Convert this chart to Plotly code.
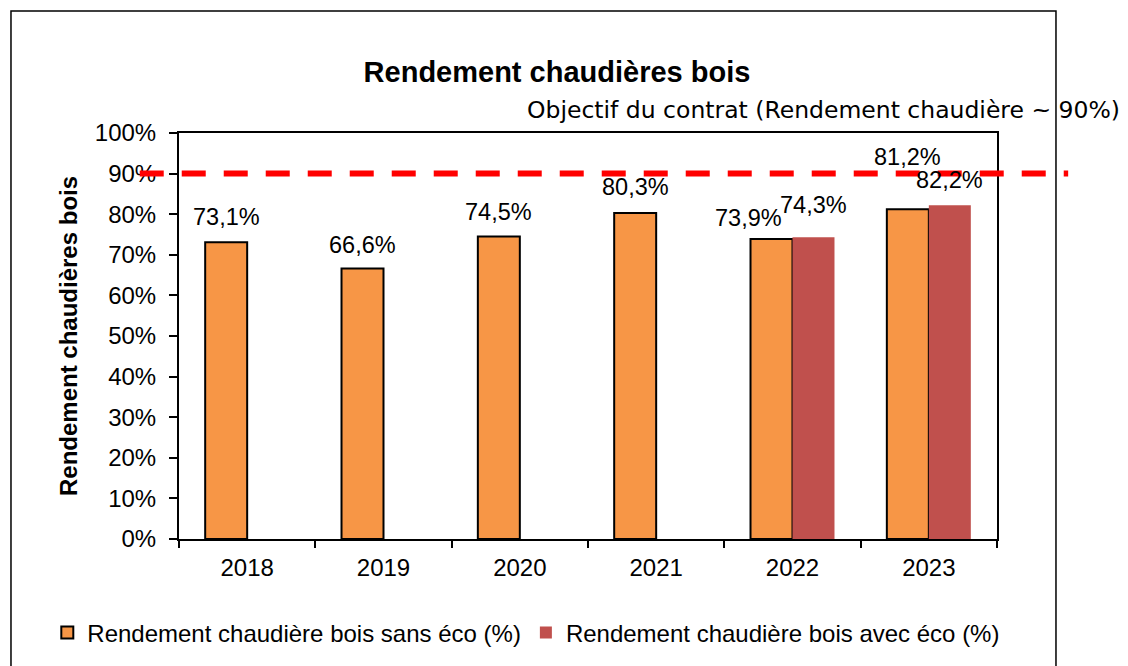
import plotly.graph_objects as go

years = ["2018", "2019", "2020", "2021", "2022", "2023"]
sans_eco = [73.1, 66.6, 74.5, 80.3, 73.9, 81.2]
avec_eco = [None, None, None, None, 74.3, 82.2]
objectif = 90
name_sans = "Rendement chaudière bois sans éco (%)"
name_avec = "Rendement chaudière bois avec éco (%)"
title_text = "Rendement chaudières bois"
yaxis_title = "Rendement chaudières bois"
objectif_text = "Objectif du contrat (Rendement chaudière ~ 90%)"

# label pixel nudges (style only)
sans_dx = [0, 0, 0, 0, -23, 0]
sans_dy = [25, 24, 25, 26, 21, 52]
avec_dx = [0, 0, 0, 0, 0, 0]
avec_dy = [0, 0, 0, 0, 32, 25]

ORANGE = "#F79646"
RED = "#C0504D"
FONT = "Liberation Sans, Arial, sans-serif"

fig = go.Figure()
fig.add_trace(go.Bar(x=years, y=sans_eco, name=name_sans,
                     marker=dict(color=ORANGE, line=dict(color="black", width=2))))
fig.add_trace(go.Bar(x=years, y=avec_eco, name=name_avec,
                     marker=dict(color=RED, line=dict(width=0))))

def fmt(v):
    return f"{v:.1f}".replace(".", ",") + "%"

annotations = []
bar_off = 21
for i, v in enumerate(sans_eco):
    if v is None:
        continue
    annotations.append(dict(x=i, y=v, xref="x", yref="y", text=fmt(v), showarrow=False,
                            xshift=-bar_off + sans_dx[i], yshift=sans_dy[i], yanchor="middle",
                            font=dict(family=FONT, size=23.5, color="black")))
for i, v in enumerate(avec_eco):
    if v is None:
        continue
    annotations.append(dict(x=i, y=v, xref="x", yref="y", text=fmt(v), showarrow=False,
                            xshift=bar_off + avec_dx[i], yshift=avec_dy[i], yanchor="middle",
                            font=dict(family=FONT, size=23.5, color="black")))

annotations.append(dict(x=(525 - 179) / 818, y=1.0567, xref="paper", yref="paper", text=objectif_text,
                        showarrow=False, xanchor="left", yanchor="middle",
                        font=dict(family="DejaVu Sans, Verdana, sans-serif", size=23.5, color="black")))

shapes = [
    dict(type="line", xref="paper", yref="y", x0=-0.048, x1=1.087, y0=objectif, y1=objectif,
         line=dict(color="#FF0000", width=6, dash="24px,18px"), layer="above"),
    dict(type="rect", xref="paper", yref="paper", x0=-0.2054, x1=1.0721, y0=-0.34, y1=1.3005,
         line=dict(color="black", width=1.5), layer="below"),
]

fig.update_layout(
    width=1128, height=666,
    margin=dict(l=171, r=139, t=125, b=135),
    paper_bgcolor="white", plot_bgcolor="white",
    barmode="group", bargap=0.384, bargroupgap=0,
    title=dict(text="<b>" + title_text + "</b>", x=549 / 1128, xanchor="center",
               y=1 - 64 / 666, yanchor="middle",
               font=dict(family=FONT, size=29, color="black")),
    showlegend=True,
    legend=dict(orientation="h", x=-0.161, xanchor="left", y=-0.2315, yanchor="middle",
                font=dict(family=FONT, size=24, color="black"), bgcolor="rgba(0,0,0,0)",
                traceorder="normal"),
    annotations=annotations,
    shapes=shapes,
    font=dict(family=FONT, color="black"),
)
fig.update_xaxes(type="category", showline=True, linecolor="black", linewidth=2, mirror=True,
                 ticks="outside", ticklen=7, tickwidth=1.5, tickcolor="black", tickson="boundaries",
                 showgrid=False, tickfont=dict(family=FONT, size=24, color="black"),
                 ticklabelstandoff=6, tickangle=0)
fig.update_yaxes(range=[0, 100], dtick=10, ticksuffix="%", showline=True, linecolor="black",
                 linewidth=2, mirror=True, ticks="outside", ticklen=8, tickwidth=1.5,
                 tickcolor="black", showgrid=False, zeroline=False,
                 tickfont=dict(family=FONT, size=24, color="black"), ticklabelstandoff=8,
                 title=dict(text="<b>" + yaxis_title + "</b>", standoff=10,
                            font=dict(family=FONT, size=24, color="black")))

fig.write_html("out.html")
